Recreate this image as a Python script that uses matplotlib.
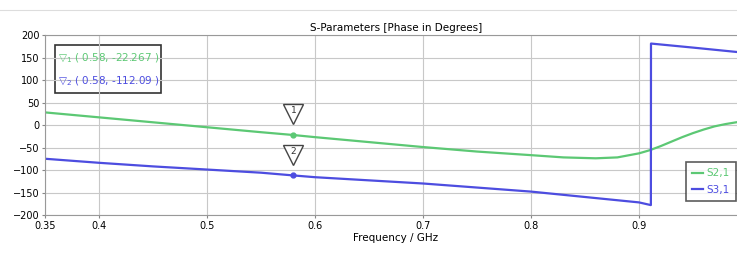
import numpy as np
import matplotlib.pyplot as plt
from matplotlib.transforms import offset_copy

# S2,1 phase (green)
freq_s21 = [0.35, 0.40, 0.45, 0.50, 0.55, 0.58, 0.60, 0.65, 0.70, 0.75, 0.80,
            0.83, 0.86, 0.88, 0.90, 0.91, 0.92, 0.93, 0.94, 0.95, 0.96, 0.97,
            0.98, 0.99, 1.00]
phase_s21 = [28, 17, 6, -5, -16, -22.267, -27, -38, -49, -59, -67,
             -72, -74, -72, -63, -56, -47, -37, -27, -18, -10, -3,
             2, 6, 9]

# S3,1 phase (blue), wraps from -180 to +180 near 0.911 GHz
freq_s31 = [0.35, 0.40, 0.45, 0.50, 0.55, 0.58, 0.60, 0.65, 0.70, 0.75, 0.80,
            0.85, 0.90, 0.911, 0.9111, 0.95, 1.00]
phase_s31 = [-75, -84, -92, -99, -106, -112.09, -116, -123, -130, -139, -148,
             -160, -172, -178, 181, 172, 160]

marker_f = 0.58
marker_vals = [-22.267, -112.09]
marker_ids = ["1", "2"]

green = "#5cc874"
blue = "#4d4de0"

plt.rcParams['font.family'] = ['DejaVu Sans']
fig = plt.figure(figsize=(7.37, 2.57), dpi=100)
ax = fig.add_axes([45 / 737, 1 - 215 / 257, 702 / 737, 180 / 257])

ax.plot(freq_s21, phase_s21, color=green, lw=1.6, label="S2,1")
ax.plot(freq_s31, phase_s31, color=blue, lw=1.6, label="S3,1")

cols = [green, blue]
for v, mid, c in zip(marker_vals, marker_ids, cols):
    ax.plot(marker_f, v, 'o', ms=3.5, color=c, mec=c)
    tr = offset_copy(ax.transData, fig=fig, x=0, y=15, units='points')
    ax.plot(marker_f, v, 'v', ms=15, mfc='white', mec='#444444', mew=1.0, transform=tr)
    tr2 = offset_copy(ax.transData, fig=fig, x=0, y=17.5, units='points')
    ax.text(marker_f, v, mid, transform=tr2, ha='center', va='center', fontsize=6.5, color='#333333')

ax.set_xlim(0.35, 1.0)
ax.set_ylim(-200, 200)
ax.set_xticks([0.35, 0.4, 0.5, 0.6, 0.7, 0.8, 0.9])
ax.set_xticklabels(["0.35", "0.4", "0.5", "0.6", "0.7", "0.8", "0.9"])
ax.set_yticks(np.arange(-200, 201, 50))
ax.tick_params(labelsize=7, length=2, color='#888888', pad=2)
ax.grid(True, color='#c8c8c8', lw=0.8)
for s in ax.spines.values():
    s.set_color('#999999')

ax.set_title("S-Parameters [Phase in Degrees]", fontsize=7.5, pad=3)
ax.set_xlabel("Frequency / GHz", fontsize=7.5, labelpad=2)

# marker readout box
txt1 = "\u25bd$_1$ ( 0.58, -22.267 )"
txt2 = "\u25bd$_2$ ( 0.58, -112.09 )"
ax.text(0.018, 0.87, txt1, transform=ax.transAxes, fontsize=7.5, color=green, va='center')
ax.text(0.018, 0.745, txt2, transform=ax.transAxes, fontsize=7.5, color=blue, va='center')
box = plt.Rectangle((10 / 702, 122 / 180), 106 / 702, 48 / 180, transform=ax.transAxes,
                    fill=True, fc='white', ec='#333333', lw=1.2, zorder=1)
ax.add_patch(box)

leg = ax.legend(loc='upper left', bbox_to_anchor=(686 / 737, 1 - 162 / 257),
                bbox_transform=fig.transFigure, fontsize=7.5, frameon=True,
                fancybox=False, edgecolor='#333333', handlelength=1.0,
                handletextpad=0.4, borderpad=0.6, borderaxespad=0,
                labelspacing=0.6)
leg.get_frame().set_linewidth(1.2)
for t, c in zip(leg.get_texts(), cols):
    t.set_color(c)

fig.add_artist(plt.Line2D([0, 1], [1 - 10 / 257, 1 - 10 / 257], color='#dddddd', lw=0.8))

fig.savefig("out.png", dpi=100)
